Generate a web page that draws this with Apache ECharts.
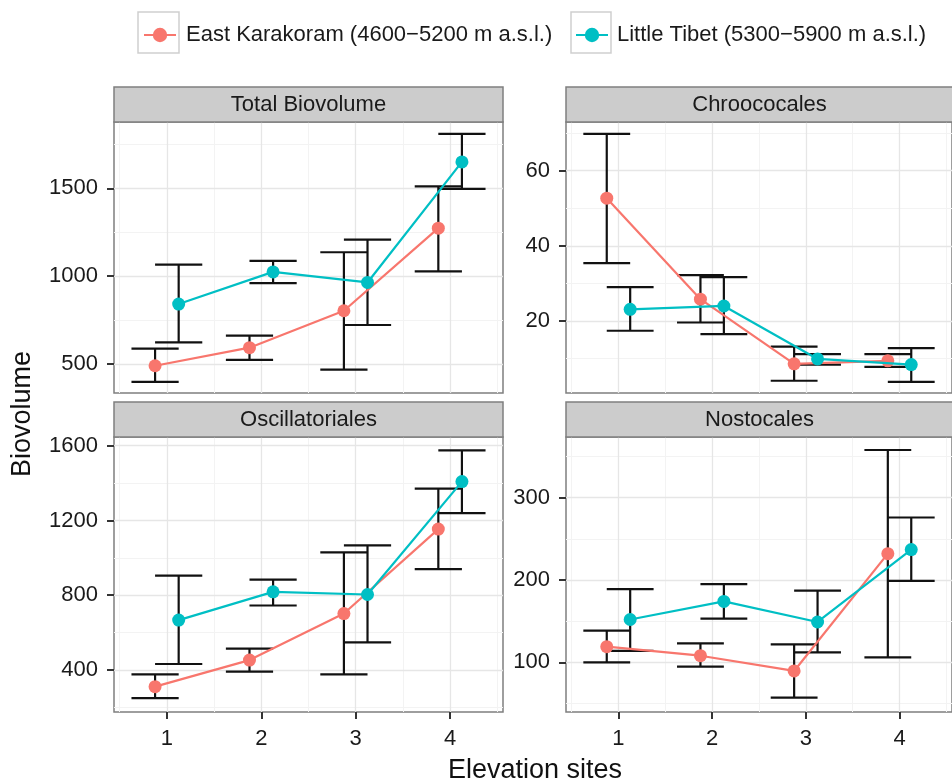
<!DOCTYPE html>
<html>
<head>
<meta charset="utf-8">
<script src="https://cdn.jsdelivr.net/npm/echarts@6/dist/echarts.min.js"></script>
<style>html,body{margin:0;padding:0;background:#fff}#c{width:952px;height:784px}</style>
</head>
<body>
<div id="c"></div>
<script>
// ---------------- data ----------------
const sites = [1, 2, 3, 4];
const panelNames = ['Total Biovolume', 'Chroococales', 'Oscillatoriales', 'Nostocales'];
const seriesNames = ['East Karakoram (4600\u22125200 m a.s.l.)', 'Little Tibet (5300\u22125900 m a.s.l.)'];

// East Karakoram
const ekTotalMean = [490, 593, 803, 1273];
const ekTotalLow  = [398, 523, 468, 1027];
const ekTotalHigh = [587, 661, 1136, 1511];
const ekChrooMean = [52.7, 25.8, 8.6, 9.4];
const ekChrooLow  = [35.4, 19.6, 4.1, 7.8];
const ekChrooHigh = [69.8, 32.2, 13.2, 11.2];
const ekOscMean = [311, 453, 702, 1154];
const ekOscLow  = [250, 391, 377, 940];
const ekOscHigh = [377, 514, 1029, 1370];
const ekNostMean = [119, 108, 89.5, 232];
const ekNostLow  = [100, 94.7, 57, 106];
const ekNostHigh = [138.5, 123, 121.9, 358];

// Little Tibet
const ltTotalMean = [841, 1024, 964, 1650];
const ltTotalLow  = [623, 960, 722, 1496];
const ltTotalHigh = [1066, 1087, 1208, 1809];
const ltChrooMean = [23.1, 24.0, 9.9, 8.4];
const ltChrooLow  = [17.4, 16.5, 8.4, 3.8];
const ltChrooHigh = [29.0, 31.7, 11.2, 12.8];
const ltOscMean = [667, 818, 804, 1408];
const ltOscLow  = [432, 745, 548, 1239];
const ltOscHigh = [905, 884, 1067, 1575];
const ltNostMean = [152, 174, 149, 237];
const ltNostLow  = [114, 153, 112, 199];
const ltNostHigh = [189, 195, 187, 276];

// tick labels
const xTicks = [1, 2, 3, 4];
const xMinorTicks = [0.5, 1.5, 2.5, 3.5, 4.5];
const totalTicks = [500, 1000, 1500];
const totalMinor = [750, 1250, 1750];
const chrooTicks = [20, 40, 60];
const chrooMinor = [10, 30, 50, 70];
const oscTicks = [400, 800, 1200, 1600];
const oscMinor = [200, 600, 1000, 1400];
const nostTicks = [100, 200, 300];
const nostMinor = [50, 150, 250, 350];

// ---------------- layout / style ----------------
const COLORS = ['#F8766D', '#00BFC4'];
const FONT = 'Liberation Sans, Arial, Helvetica, sans-serif';
const DODGE = 0.125, CAP = 0.25;
const panels = [
  {left: 114, top: 122, height: 271, yMin: 335, yMax: 1877, ticks: totalTicks, minor: totalMinor,
   ek: [ekTotalMean, ekTotalLow, ekTotalHigh], lt: [ltTotalMean, ltTotalLow, ltTotalHigh], bottom: false},
  {left: 566, top: 122, height: 271, yMin: 0.84, yMax: 72.96, ticks: chrooTicks, minor: chrooMinor,
   ek: [ekChrooMean, ekChrooLow, ekChrooHigh], lt: [ltChrooMean, ltChrooLow, ltChrooHigh], bottom: false},
  {left: 114, top: 437, height: 275, yMin: 175.3, yMax: 1646.5, ticks: oscTicks, minor: oscMinor,
   ek: [ekOscMean, ekOscLow, ekOscHigh], lt: [ltOscMean, ltOscLow, ltOscHigh], bottom: true},
  {left: 566, top: 437, height: 275, yMin: 39.6, yMax: 373.8, ticks: nostTicks, minor: nostMinor,
   ek: [ekNostMean, ekNostLow, ekNostHigh], lt: [ltNostMean, ltNostLow, ltNostHigh], bottom: true}
];
const PW = 389;
const plain = v => String(v);

const grid = [], xAxis = [], yAxis = [], series = [], graphic = [];

function errorRender(params, api) {
  const x = api.value(0), lo = api.value(1), hi = api.value(2);
  const pLo = api.coord([x, lo]), pHi = api.coord([x, hi]);
  const hw = api.size([CAP, 0])[0];
  const style = {stroke: '#111', lineWidth: 2.2};
  return {type: 'group', children: [
    {type: 'line', shape: {x1: pLo[0], y1: pLo[1], x2: pHi[0], y2: pHi[1]}, style},
    {type: 'line', shape: {x1: pLo[0] - hw, y1: pLo[1], x2: pLo[0] + hw, y2: pLo[1]}, style},
    {type: 'line', shape: {x1: pHi[0] - hw, y1: pHi[1], x2: pHi[0] + hw, y2: pHi[1]}, style}
  ]};
}

panels.forEach((p, g) => {
  grid.push({left: p.left, top: p.top, width: PW, height: p.height, show: true,
    backgroundColor: '#fff', borderColor: '#7f7f7f', borderWidth: 1.5, containLabel: false});
  // major x
  xAxis.push({type: 'value', gridIndex: g, min: 0.44, max: 4.56,
    axisLine: {show: false},
    axisTick: {show: p.bottom, length: 7, lineStyle: {color: '#333', width: 2}, customValues: xTicks},
    axisLabel: {show: p.bottom, customValues: xTicks, formatter: plain, fontSize: 22, color: '#1a1a1a', fontFamily: FONT, margin: 16},
    splitLine: {show: true, lineStyle: {color: '#e6e6e6', width: 1.3}}, z: 1});
  // minor x
  xAxis.push({type: 'value', gridIndex: g, min: 0.44, max: 4.56,
    axisLine: {show: false}, axisLabel: {show: false},
    axisTick: {show: false, customValues: xMinorTicks},
    splitLine: {show: true, lineStyle: {color: '#f3f3f3', width: 1}}, z: 0});
  // major y
  yAxis.push({type: 'value', gridIndex: g, min: p.yMin, max: p.yMax,
    axisLine: {show: false},
    axisTick: {show: true, length: 7, lineStyle: {color: '#333', width: 2}, customValues: p.ticks},
    axisLabel: {customValues: p.ticks, formatter: plain, fontSize: 22, color: '#1a1a1a', fontFamily: FONT, margin: 16},
    splitLine: {show: true, lineStyle: {color: '#e6e6e6', width: 1.3}}, z: 1});
  // minor y
  yAxis.push({type: 'value', gridIndex: g, min: p.yMin, max: p.yMax,
    axisLine: {show: false}, axisLabel: {show: false},
    axisTick: {show: false, customValues: p.minor},
    splitLine: {show: true, lineStyle: {color: '#f3f3f3', width: 1}}, z: 0});

  [p.ek, p.lt].forEach((d, s) => {
    const off = s === 0 ? -DODGE : DODGE;
    series.push({type: 'custom', xAxisIndex: 2 * g, yAxisIndex: 2 * g, renderItem: errorRender,
      encode: {x: 0, y: [1, 2]}, silent: true, z: 2,
      data: sites.map((st, i) => [st + off, d[1][i], d[2][i]])});
  });
  [p.ek, p.lt].forEach((d, s) => {
    const off = s === 0 ? -DODGE : DODGE;
    series.push({type: 'line', name: seriesNames[s], xAxisIndex: 2 * g, yAxisIndex: 2 * g,
      data: sites.map((st, i) => [st + off, d[0][i]]),
      symbol: 'circle', symbolSize: 13, showSymbol: true, animation: false,
      itemStyle: {color: COLORS[s]}, lineStyle: {color: COLORS[s], width: 2.2}, z: 3 + s});
  });

  // strip
  const stripTop = p.top - 35;
  graphic.push({type: 'rect', shape: {x: p.left, y: stripTop, width: PW, height: 35},
    style: {fill: '#cccccc', stroke: '#7f7f7f', lineWidth: 1.5}, z: 10});
  graphic.push({type: 'text', x: p.left + PW / 2 - (g % 2 === 1 ? 1 : 0), y: stripTop + 18,
    style: {text: panelNames[g], fill: '#1a1a1a', font: '22px ' + FONT, textAlign: 'center', textVerticalAlign: 'middle'}, z: 11});
});

// legend boxes
graphic.push({type: 'rect', shape: {x: 138, y: 12, width: 41, height: 41},
  style: {fill: '#fff', stroke: '#cfcfcf', lineWidth: 1.5}, z: 0});
graphic.push({type: 'rect', shape: {x: 571, y: 12, width: 40, height: 41},
  style: {fill: '#fff', stroke: '#cfcfcf', lineWidth: 1.5}, z: 0});
// axis titles
graphic.push({type: 'text', x: 535, y: 771,
  style: {text: 'Elevation sites', fill: '#111', font: '27px ' + FONT, textAlign: 'center', textVerticalAlign: 'middle'}});
graphic.push({type: 'text', x: 23, y: 414, rotation: Math.PI / 2,
  style: {text: 'Biovolume', fill: '#111', font: '27px ' + FONT, textAlign: 'center', textVerticalAlign: 'middle'}});

const legendCommon = {orient: 'horizontal', itemWidth: 32, itemHeight: 18, itemGap: 0,
  textStyle: {fontSize: 22, color: '#1a1a1a', fontFamily: FONT, padding: [0, 0, 0, 5]},
  selectedMode: false, z: 5};

const option = {
  animation: false,
  backgroundColor: '#fff',
  legend: [
    Object.assign({}, legendCommon, {left: 138, top: 19, data: [seriesNames[0]]}),
    Object.assign({}, legendCommon, {left: 570, top: 19, data: [seriesNames[1]],
      textStyle: Object.assign({}, legendCommon.textStyle, {padding: [0, 0, 0, 4]})})
  ],
  grid, xAxis, yAxis, series, graphic
};
const chart = echarts.init(document.getElementById('c'), null, {renderer: 'canvas'});
chart.setOption(option);
</script>
</body>
</html>
